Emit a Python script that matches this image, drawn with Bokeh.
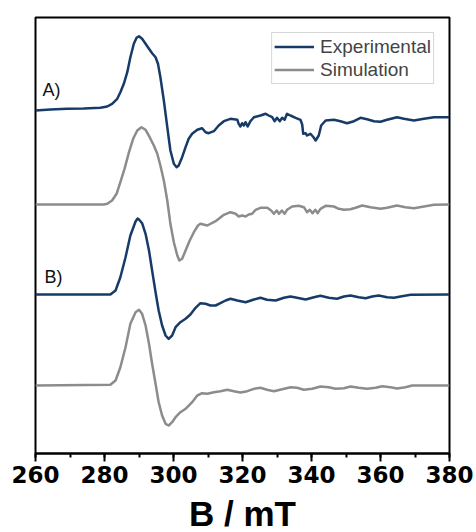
from bokeh.plotting import figure
from bokeh.models import Range1d, SingleIntervalTicker, Legend, LegendItem, Label
from bokeh.embed import file_html
from bokeh.resources import INLINE

# ---- data (B in mT, intensity in arbitrary units relative to each trace baseline) ----
a_exp_b = [260.0, 264.3, 269.2, 274.0, 278.8, 280.8, 282.2, 283.7, 284.6, 285.6, 286.6, 287.5, 288.5,
           289.3, 290.0, 290.9, 291.9, 292.9, 293.8, 294.8, 295.5, 296.2, 297.2, 298.2, 299.1, 300.1,
           300.9, 301.5, 302.5, 303.5, 304.4, 305.4, 306.9, 308.3, 309.3, 310.2, 311.7, 313.1, 314.6,
           316.5, 318.5, 318.9, 319.4, 319.9, 320.4, 320.9, 321.5, 322.3, 323.3, 325.2, 326.7, 327.6,
           328.6, 329.3, 330.0, 330.8, 331.5, 332.2, 332.9, 333.9, 335.4, 336.8, 337.3, 337.6, 338.3,
           338.7, 339.7, 340.7, 341.2, 342.1, 342.8, 344.1, 346.5, 348.4, 350.3, 352.3, 354.2, 356.1,
           358.1, 360.0, 361.9, 364.8, 366.8, 369.7, 372.6, 375.5, 380.0]
a_exp_i = [0, 1, 1.7, 2, 2.7, 4, 6.7, 11.7, 18.3, 26.7, 38.3, 53.3, 66.7,
           72.7, 74.3, 71.7, 66.7, 61.7, 57.3, 53.3, 46.7, 33.3, 10, -16.7, -40, -53.3,
           -56.7, -55, -46.7, -36.7, -28.3, -23.3, -19.3, -17.7, -21.7, -22.7, -20.7, -15, -10.7,
           -8.3, -9.3, -13.3, -16, -12.7, -15, -11.7, -16, -10.7, -6.7, -5, -3.3, -5,
           -6.7, -10.7, -7.3, -10.7, -7.3, -9.3, -3.3, -5, -7.3, -9.3, -14, -23.3, -22.7,
           -25, -23.3, -27.3, -30, -25, -15, -10, -9.3, -10.7, -12.7, -10.7, -7.3, -8.7,
           -10.7, -11.3, -9.3, -6.7, -8.3, -10, -8.3, -6.7, -6.7]

a_sim_b = [260.0, 279.8, 280.8, 282.2, 283.5, 284.6, 285.8, 287.1, 288.3, 289.5, 290.7, 291.9, 293.1,
           294.3, 295.3, 296.2, 297.2, 298.2, 299.1, 300.1, 301.1, 301.7, 302.5, 303.5, 304.7, 305.9,
           307.1, 307.8, 309.8, 312.2, 314.6, 316.5, 318.0, 318.9, 319.9, 320.9, 321.8, 322.8, 323.8,
           325.2, 327.2, 328.3, 329.1, 329.9, 330.6, 331.4, 332.2, 332.9, 334.4, 336.3, 337.8, 338.7,
           339.5, 340.3, 341.1, 341.8, 342.6, 344.1, 346.5, 347.9, 349.4, 351.3, 352.8, 354.7, 357.1,
           360.0, 361.9, 364.8, 367.2, 369.7, 372.6, 375.5, 380.0]
a_sim_i = [0, 0, 0.7, 4, 10.7, 22.3, 35.7, 52.3, 65.7, 74, 77.3, 74.7, 67.3,
           59, 50.7, 39, 24, 4, -19.3, -37.7, -51, -56, -54.3, -46, -36, -27.7,
           -21, -19.3, -21, -16.7, -10.3, -7.7, -9.3, -12, -11, -12, -10, -9.3, -5.3,
           -3.3, -3.3, -6, -9.3, -6, -9.3, -6, -9.3, -5.3, -2, -1.3, -2.7, -7.7,
           -5.3, -8.7, -5.3, -8.7, -4.3, -1.3, -2, -4.3, -5.3, -4.7, -3.3, -1, -2.7,
           -4.3, -3.3, -1, -2.7, -3.7, -2, -0.3, 0]

b_exp_b = [260.0, 281.7, 283.2, 284.6, 286.1, 287.5, 289.0, 289.6, 290.0, 290.9, 291.9, 292.9, 293.8,
           294.8, 295.7, 296.7, 297.7, 298.6, 299.6, 300.6, 302.0, 303.5, 304.9, 306.4, 307.8, 309.3,
           310.7, 312.2, 313.6, 315.1, 316.5, 318.5, 320.9, 323.3, 325.2, 327.1, 329.6, 332.0, 333.9,
           335.8, 338.3, 340.7, 342.6, 345.0, 347.4, 349.4, 351.3, 353.7, 355.7, 357.6, 359.5, 361.9,
           363.9, 365.8, 368.7, 380.0]
b_exp_i = [0, 0, 4, 17.3, 37.3, 59, 73, 76, 75, 71.3, 60.7, 44, 24,
           2.3, -16, -31, -41, -44.3, -41, -32.7, -27.7, -24.3, -20, -13.3, -8.7, -9.3,
           -11, -11, -8.7, -6, -4.3, -6, -7.7, -5, -3.3, -5.3, -6, -3.3, -2,
           -3.3, -5, -2.7, -1.3, -3.3, -4.3, -2, -1, -2.7, -3.7, -2, -1, -2.7,
           -3.3, -2, -0.3, 0]

b_sim_b = [260.0, 281.7, 283.2, 284.6, 286.1, 287.5, 289.0, 290.0, 290.9, 291.9, 292.9, 293.8, 294.8,
           295.7, 296.7, 297.7, 298.6, 299.6, 300.6, 302.0, 303.5, 305.4, 306.9, 308.3, 309.8, 311.7,
           313.6, 315.6, 317.5, 319.4, 321.4, 323.3, 325.2, 327.1, 329.1, 331.5, 333.9, 335.8, 337.8,
           340.2, 342.6, 345.0, 347.0, 349.4, 351.3, 353.7, 356.1, 358.6, 360.5, 362.9, 364.8, 367.2,
           369.2, 380.0]
b_sim_i = [0, 0.7, 5, 18.3, 38.3, 61.7, 73.3, 75.7, 71.7, 60, 41.7, 21.7, 1.7,
           -16.7, -30, -38.3, -40, -36.7, -31.7, -26.7, -23.3, -16.7, -10, -7.7, -8.3, -6.7,
           -5.7, -4.3, -5.7, -7, -5.7, -3.3, -2.3, -4.3, -5.7, -3.7, -1.7, -2.3, -4.3,
           -3.3, -1, -1.7, -3.3, -2.7, -1, -2.3, -3.3, -2.3, -0.7, -1.7, -3, -1.7,
           0, 0]

offsets = {"A_exp": 343, "A_sim": 249, "B_exp": 159, "B_sim": 68}
panel_labels = ["A)", "B)"]
legend_labels = ["Experimental", "Simulation"]
x_ticks_interval = 20

EXP_COLOR = "#163b68"
SIM_COLOR = "#8c8c8c"
LW = 2.5

p = figure(frame_width=414, frame_height=436,
           x_range=Range1d(260, 380), y_range=Range1d(0, 436),
           output_backend="svg", toolbar_location=None,
           min_border_left=35, min_border_right=27, min_border_top=17, min_border_bottom=79,
           background_fill_color="white", border_fill_color="white")


def shifted(vals, off):
    return [v + off for v in vals]


r_ae = p.line(a_exp_b, shifted(a_exp_i, offsets["A_exp"]), line_color=EXP_COLOR,
              line_width=LW, line_join="round")
r_as = p.line(a_sim_b, shifted(a_sim_i, offsets["A_sim"]), line_color=SIM_COLOR,
              line_width=LW, line_join="round")
r_be = p.line(b_exp_b, shifted(b_exp_i, offsets["B_exp"]), line_color=EXP_COLOR,
              line_width=LW, line_join="round")
r_bs = p.line(b_sim_b, shifted(b_sim_i, offsets["B_sim"]), line_color=SIM_COLOR,
              line_width=LW, line_join="round")

p.add_layout(Label(x=262, y=offsets["A_exp"] + 11, text=panel_labels[0],
                   text_font="Liberation Sans", text_font_size="18px", text_color="#111111"))
p.add_layout(Label(x=262.6, y=offsets["B_exp"] + 8, text=panel_labels[1],
                   text_font="Liberation Sans", text_font_size="18px", text_color="#111111"))

legend = Legend(items=[LegendItem(label=legend_labels[0], renderers=[r_ae]),
                       LegendItem(label=legend_labels[1], renderers=[r_as])],
                location="top_right", margin=15, padding=2, spacing=0,
                glyph_width=40, glyph_height=23, label_height=23, label_standoff=6,
                label_text_font="Liberation Sans", label_text_font_size="19px",
                border_line_color="#b0b0b0", border_line_width=1,
                background_fill_alpha=1.0)
p.add_layout(legend)

p.yaxis.visible = False
p.grid.visible = False
p.outline_line_color = "black"
p.outline_line_width = 2

ax = p.xaxis[0]
ax.ticker = SingleIntervalTicker(interval=x_ticks_interval, num_minor_ticks=2)
ax.axis_line_width = 2
ax.major_tick_line_width = 2
ax.minor_tick_line_width = 2
ax.major_tick_out = 8
ax.major_tick_in = 0
ax.minor_tick_out = 4
ax.minor_tick_in = 0
ax.major_label_text_font = "DejaVu Sans"
ax.major_label_text_font_style = "bold"
ax.major_label_text_font_size = "23px"
ax.major_label_text_color = "black"
ax.major_label_standoff = 4
ax.axis_label = "B / mT"
ax.axis_label_text_font = "Liberation Sans"
ax.axis_label_text_font_style = "bold"
ax.axis_label_text_font_size = "35px"
ax.axis_label_text_color = "black"
ax.axis_label_standoff = 8

open("out.html", "w").write(file_html(p, INLINE))
